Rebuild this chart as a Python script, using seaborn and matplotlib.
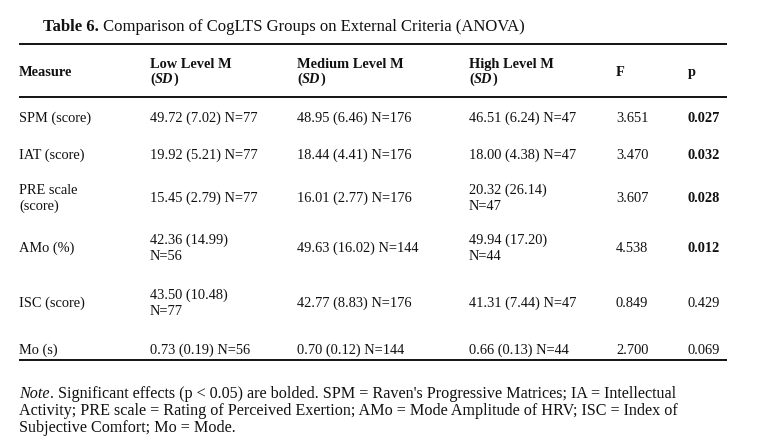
import matplotlib
matplotlib.use("Agg")
import matplotlib.pyplot as plt
import seaborn as sns

# ---------------- data ----------------
measures = ["SPM (score)", "IAT (score)", "PRE scale\n(score)", "AMo (%)", "ISC (score)", "Mo (s)"]
low_m = ["49.72", "19.92", "15.45", "42.36", "43.50", "0.73"]
low_sd = ["7.02", "5.21", "2.79", "14.99", "10.48", "0.19"]
low_n = [77, 77, 77, 56, 77, 56]
med_m = ["48.95", "18.44", "16.01", "49.63", "42.77", "0.70"]
med_sd = ["6.46", "4.41", "2.77", "16.02", "8.83", "0.12"]
med_n = [176, 176, 176, 144, 176, 144]
high_m = ["46.51", "18.00", "20.32", "49.94", "41.31", "0.66"]
high_sd = ["6.24", "4.38", "26.14", "17.20", "7.44", "0.13"]
high_n = [47, 47, 47, 44, 47, 44]
f_vals = ["3.651", "3.470", "3.607", "4.538", "0.849", "2.700"]
p_vals = ["0.027", "0.032", "0.028", "0.012", "0.429", "0.069"]
alpha = 0.05

title_bold = "Table 6."
title_rest = " Comparison of CogLTS Groups on External Criteria (ANOVA)"
col_heads = ["Measure", "Low Level M", "Medium Level M", "High Level M", "F", "p"]
note_lines = [
    [("Note", "italic"), (". Significant effects (p < 0.05) are bolded. SPM = Raven's Progressive Matrices; IA = Intellectual", "normal")],
    [("Activity; PRE scale = Rating of Perceived Exertion; AMo = Mode Amplitude of HRV; ISC = Index of", "normal")],
    [("Subjective Comfort; Mo = Mode.", "normal")],
]

# ---------------- layout ----------------
sns.set_theme(style="white")
FONT = "Liberation Serif"
plt.rcParams["font.family"] = [FONT, "DejaVu Serif"]
INK = "#111111"

W, H = 759, 440
fig = plt.figure(figsize=(W / 100, H / 100), dpi=100)
ax = fig.add_axes([0, 0, 1, 1])
ax.set_xlim(0, W)
ax.set_ylim(H, 0)
ax.axis("off")
fig.canvas.draw()
renderer = fig.canvas.get_renderer()

VA = "center_baseline"


def text_width(t):
    return t.get_window_extent(renderer=renderer).width


def put(x, y, s, size, weight="normal", style="normal"):
    return ax.text(x, y, s, fontsize=size, fontweight=weight, fontstyle=style,
                   va=VA, ha="left", color=INK)


def runs(x, y, parts, size):
    for s, weight, style in parts:
        t = put(x, y, s, size, weight, style)
        x += text_width(t)
    return x


def lines(x, y, parts, size, weight="normal", gap=16):
    n = len(parts)
    for k, s in enumerate(parts):
        put(x, y + (k - (n - 1) / 2) * gap, s, size, weight)


col_x = [19, 150, 297, 469, 616, 688]
col_limit = [120, 110, 160, 110, 60, 60]
row_y = [117, 154, 197, 247, 302, 349]
body_size = 10.4
head_size = 10.4

# title
runs(43, 25, [(title_bold, "bold", "normal"), (title_rest, "normal", "normal")], 12.0)

# rules
ax.hlines([44, 97, 360], 19, 727, color="black", lw=1.3)

# header
put(col_x[0], 71, col_heads[0], head_size, "bold")
for j in (1, 2, 3):
    put(col_x[j], 63, col_heads[j], head_size, "bold")
    runs(col_x[j], 78, [("(", "bold", "normal"), ("SD", "bold", "italic"), (")", "bold", "normal")], head_size)
put(col_x[4], 71, col_heads[4], head_size, "bold")
put(col_x[5], 71, col_heads[5], head_size, "bold")


def cell(x, y, m, sd, n, limit):
    full = f"{m} ({sd}) N={n}"
    t = put(x, -100, full, body_size)
    w = text_width(t)
    t.remove()
    if w > limit:
        lines(x, y, [f"{m} ({sd})", f"N={n}"], body_size)
    else:
        lines(x, y, [full], body_size)


for i in range(len(measures)):
    y = row_y[i]
    lines(col_x[0], y, measures[i].split("\n"), body_size)
    cell(col_x[1], y, low_m[i], low_sd[i], low_n[i], col_limit[1])
    cell(col_x[2], y, med_m[i], med_sd[i], med_n[i], col_limit[2])
    cell(col_x[3], y, high_m[i], high_sd[i], high_n[i], col_limit[3])
    put(col_x[4], y, f_vals[i], body_size)
    sig = float(p_vals[i]) < alpha
    put(col_x[5], y, p_vals[i], body_size, "bold" if sig else "normal")

# note
for k, line in enumerate(note_lines):
    runs(19, 392 + 17 * k, [(s, "normal", st) for s, st in line], 11.6)

fig.savefig("out.png", dpi=100, facecolor="white")
